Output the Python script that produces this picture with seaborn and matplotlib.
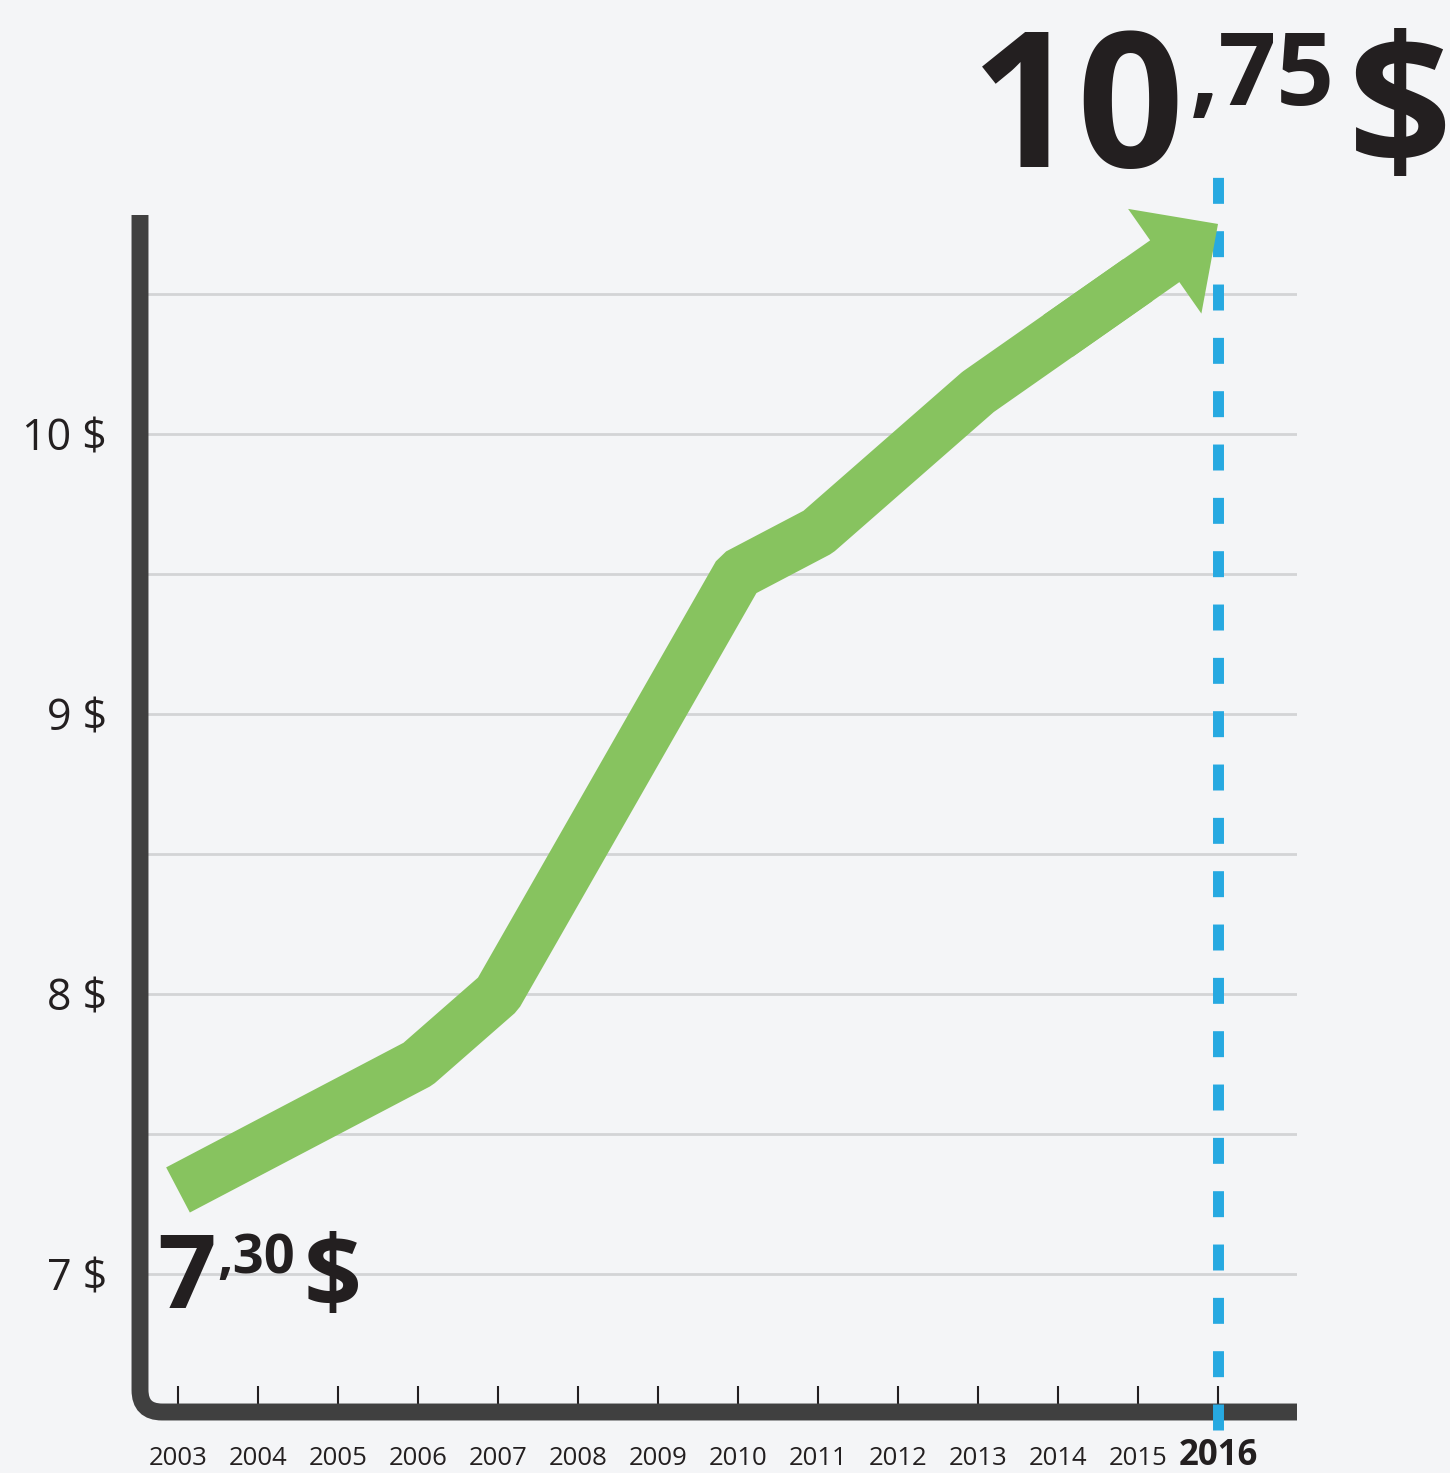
import numpy as np
import pandas as pd
import matplotlib.pyplot as plt
import seaborn as sns
from matplotlib.path import Path
from matplotlib.patches import PathPatch

# minimum wage per year ($/h)
years = [2003, 2004, 2005, 2006, 2007, 2008, 2009, 2010, 2011, 2012, 2013, 2014, 2015, 2016]
wages = [7.30, 7.45, 7.60, 7.75, 8.00, 8.50, 9.00, 9.50, 9.65, 9.90, 10.15, 10.35, 10.55, 10.75]
y_ticks = [7, 7.5, 8, 8.5, 9, 9.5, 10, 10.5]
y_tick_labels = ['7 $', '', '8 $', '', '9 $', '', '10 $', '']
x_tick_labels = [str(y) for y in years]

BG = '#f4f5f7'
TEXT = '#231f20'
AXIS = '#404040'
GRID = '#d3d4d6'
GREEN = '#87c35f'
BLUE = '#27a9e1'

W, H = 1450, 1473


def px_text(fig, x, y, s, size):
    fig.text(x / W, 1 - y / H, s, fontsize=size, fontweight='bold', color=TEXT,
             ha='left', va='baseline')


def split_value(v):
    whole, cents = f'{v:.2f}'.split('.')
    return whole, ',' + cents


sns.set_theme(style='white')
plt.rcParams['font.family'] = ['Open Sans', 'DejaVu Sans']
plt.rcParams['lines.scale_dashes'] = False

fig = plt.figure(figsize=(14.5, 14.73), dpi=100, facecolor=BG)
ax = fig.add_axes([140 / W, 1 - 1412 / H, (1297 - 140) / W, (1412 - 215) / H])
ax.set_facecolor(BG)

df = pd.DataFrame({'year': years, 'wage': wages})
body = df[df['year'] <= years[-2]]
sns.lineplot(data=body, x='year', y='wage', ax=ax, color=GREEN, linewidth=36.7,
             solid_capstyle='butt', solid_joinstyle='bevel', zorder=4)

# arrow head up to the last year
ax.annotate('', xy=(years[-1], wages[-1]), xytext=(years[-3], wages[-3]),
            arrowprops=dict(arrowstyle='simple,head_length=46.8,head_width=92,tail_width=36.7',
                            mutation_scale=1, fc=GREEN, ec='none', lw=0,
                            shrinkA=0, shrinkB=0),
            zorder=4)

# dashed marker for the last year
ax.axvline(years[-1], ymin=-0.015, ymax=1.032, color=BLUE, lw=7.9,
           dashes=(18.7, 19.7), solid_capstyle='butt', dash_capstyle='butt',
           clip_on=False, zorder=3.5)

ax.set_xlim(2002.525, 2016.9875)
ax.set_ylim(6.507, 10.782)

ax.set_yticks(y_ticks)
ax.set_yticklabels(y_tick_labels)
ax.set_xticks(years)
ax.set_xticklabels(x_tick_labels)
ax.grid(axis='y', color=GRID, lw=2)
ax.grid(axis='x', visible=False)
ax.set_axisbelow(True)
ax.set_xlabel('')
ax.set_ylabel('')

ax.tick_params(axis='y', length=0, pad=23.8, labelsize=31, labelcolor=TEXT)
ax.tick_params(axis='x', direction='in', length=18.7, width=1.5, color=TEXT,
               pad=38.5, labelsize=18.5, labelcolor=TEXT, bottom=True)
for lab in ax.get_xticklabels():
    lab.set_va('baseline')
last = ax.get_xticklabels()[-1]
last.set_fontweight('bold')
last.set_fontsize(25)

for s in ax.spines.values():
    s.set_visible(False)

# frame with rounded corner
rx, ry = 22 / (1297 - 140), 22 / (1412 - 215)
frame = Path([(0, 1), (0, ry), (0, 0), (rx, 0), (1, 0)],
             [Path.MOVETO, Path.LINETO, Path.CURVE3, Path.CURVE3, Path.LINETO])
ax.add_patch(PathPatch(frame, transform=ax.transAxes, fill=False, lw=12.2,
                       edgecolor=AXIS, capstyle='butt', joinstyle='miter',
                       clip_on=False, zorder=3))

# start / end value labels
w0, c0 = split_value(wages[0])
px_text(fig, 157, 1308, w0, 74)
px_text(fig, 217, 1273, c0, 39)
px_text(fig, 304, 1308, '$', 73)

w1, c1 = split_value(wages[-1])
px_text(fig, 971, 167, w1, 135)
px_text(fig, 1190, 105, c1, 73)
px_text(fig, 1347, 166, '$', 131)

fig.savefig('out.png', dpi=100, facecolor=BG)
